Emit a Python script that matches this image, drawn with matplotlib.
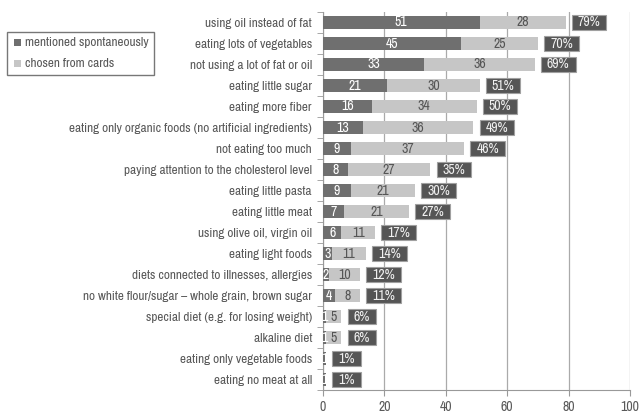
import matplotlib
matplotlib.use("Agg")
import matplotlib.pyplot as plt
import numpy as np
from matplotlib import font_manager
from matplotlib.patches import Rectangle

categories = [
    "using oil instead of fat",
    "eating lots of vegetables",
    "not using a lot of fat or oil",
    "eating little sugar",
    "eating more fiber",
    "eating only organic foods (no artificial ingredients)",
    "not eating too much",
    "paying attention to the cholesterol level",
    "eating little pasta",
    "eating little meat",
    "using olive oil, virgin oil",
    "eating light foods",
    "diets connected to illnesses, allergies",
    "no white flour/sugar \u2013 whole grain, brown sugar",
    "special diet (e.g. for losing weight)",
    "alkaline diet",
    "eating only vegetable foods",
    "eating no meat at all",
]
spontaneous = [51, 45, 33, 21, 16, 13, 9, 8, 9, 7, 6, 3, 2, 4, 1, 1, 1, 1]
cards = [28, 25, 36, 30, 34, 36, 37, 27, 21, 21, 11, 11, 10, 8, 5, 5, 0, 0]
totals = [79, 70, 69, 51, 50, 49, 46, 35, 30, 27, 17, 14, 12, 11, 6, 6, 1, 1]
series_names = ["mentioned spontaneously", "chosen from cards"]
xticks = [0, 20, 40, 60, 80, 100]

names = sorted({f.name for f in font_manager.fontManager.ttflist})
narrow = [nm for nm in names if 'Narrow' in nm or 'Condensed' in nm]
if narrow:
    fam = [narrow[0], "Liberation Sans", "DejaVu Sans"]
    fs = 9.5
else:
    fam = ["Liberation Sans", "DejaVu Sans"]
    fs = 7.8
plt.rcParams['font.family'] = fam

dark = "#6f6f6f"
light = "#c6c6c6"
boxc = "#555555"
txtc = "#595959"

W, H = 639, 415
fig = plt.figure(figsize=(W / 100, H / 100), dpi=100)
ax = fig.add_axes([323 / W, 1 - 390 / H, 307 / W, 378 / H])

n = len(categories)
y = np.arange(n)
h = 0.6
b1 = ax.barh(y, spontaneous, height=h, color=dark, label=series_names[0], zorder=3)
b2 = ax.barh(y, cards, left=spontaneous, height=h, color=light, label=series_names[1], zorder=3)

for i in range(n):
    s, c = spontaneous[i], cards[i]
    if s > 0:
        ax.text(s / 2, i, str(s), ha='center', va='center', color='white', fontsize=fs + 0.5, zorder=4)
    if c > 0:
        ax.text(s + c / 2, i, str(c), ha='center', va='center', color='#555555', fontsize=fs + 0.5, zorder=4)

ax.set_ylim(n - 0.5, -0.5)
ax.set_xlim(0, 100)
ax.set_xticks(xticks)
ax.set_xticklabels([str(v) for v in xticks], color=txtc, fontsize=fs + 0.5)
ax.set_yticks(y)
ax.set_yticklabels(categories, color=txtc, fontsize=fs)
ax.tick_params(axis='y', length=0, pad=8)
ax.set_yticks(np.arange(-0.5, n, 1), minor=True)
ax.tick_params(axis='y', which='minor', length=4, color='#999999')
ax.tick_params(axis='x', length=4, color='#999999', pad=3)
ax.grid(axis='x', color='#aaaaaa', linewidth=0.9, zorder=0)
for sp in ['top', 'right']:
    ax.spines[sp].set_visible(False)
for sp in ['left', 'bottom']:
    ax.spines[sp].set_color('#999999')

# total boxes
fig.canvas.draw()
r = fig.canvas.get_renderer()
pxu = ax.get_window_extent(r).width / 100.0
pxrow = ax.get_window_extent(r).height / n
for i in range(n):
    end = spontaneous[i] + cards[i]
    t = ax.text(0, i, f"{totals[i]}%", ha='center', va='center', color='#f0f0f0',
                fontsize=fs + 0.5, zorder=6)
    bw = (t.get_window_extent(r).width + 12) / pxu
    x0 = end + 2.0
    t.set_x(x0 + bw / 2)
    bh = 15.5 / pxrow
    ax.add_patch(Rectangle((x0, i - bh / 2), bw, bh, facecolor=boxc, edgecolor='#a0a0a0',
                           linewidth=0.8, zorder=5, clip_on=False))

# legend (drawn manually to match size)
def fx(px):
    return px / W

def fy(py):
    return 1 - py / H

fig.patches.append(Rectangle((fx(7), fy(75)), fx(147), 43 / H, transform=fig.transFigure,
                             facecolor='white', edgecolor='#777777', linewidth=1.0))
for k, (lab, col) in enumerate(zip(series_names, [dark, light])):
    yc = 43 + 20.5 * k
    fig.patches.append(Rectangle((fx(14), fy(yc + 3.5)), fx(7), 7 / H, transform=fig.transFigure,
                                 facecolor=col, edgecolor='none'))
    fig.text(fx(25), fy(yc), lab, ha='left', va='center', color=txtc, fontsize=fs)

fig.savefig("out.png", dpi=100)
